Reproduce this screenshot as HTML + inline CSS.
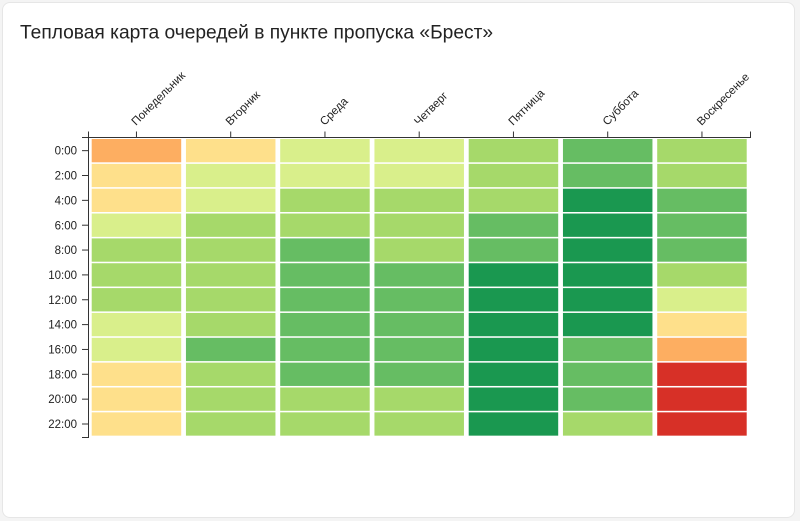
<!DOCTYPE html>
<html>
<head>
<meta charset="utf-8">
<style>
html,body{margin:0;padding:0;width:800px;height:521px;overflow:hidden;background:#f4f4f4;}
.card{position:absolute;left:2px;top:2px;width:791px;height:514px;background:#fff;border:1px solid #e6e6e6;border-radius:8px;}
svg{position:absolute;left:0;top:0;}
text{font-family:"Liberation Sans",Arial,sans-serif;}
</style>
</head>
<body>
<div class="card"></div>
<svg width="800" height="521" viewBox="0 0 800 521" xmlns="http://www.w3.org/2000/svg">
<text x="20" y="38.5" font-size="19.2" fill="#222">Тепловая карта очередей в пункте пропуска «Брест»</text>

<g>
<!-- Mon -->
<g transform="translate(91.7,0)">
<rect y="139" width="89.5" height="23.3" fill="#fdae61"/>
<rect y="163.85" width="89.5" height="23.3" fill="#fee08b"/>
<rect y="188.7" width="89.5" height="23.3" fill="#fee08b"/>
<rect y="213.55" width="89.5" height="23.3" fill="#d9ef8b"/>
<rect y="238.4" width="89.5" height="23.3" fill="#a6d96a"/>
<rect y="263.25" width="89.5" height="23.3" fill="#a6d96a"/>
<rect y="288.1" width="89.5" height="23.3" fill="#a6d96a"/>
<rect y="312.95" width="89.5" height="23.3" fill="#d9ef8b"/>
<rect y="337.8" width="89.5" height="23.3" fill="#d9ef8b"/>
<rect y="362.65" width="89.5" height="23.3" fill="#fee08b"/>
<rect y="387.5" width="89.5" height="23.3" fill="#fee08b"/>
<rect y="412.35" width="89.5" height="23.3" fill="#fee08b"/>
</g>
<!-- Tue -->
<g transform="translate(185.95,0)">
<rect y="139" width="89.5" height="23.3" fill="#fee08b"/>
<rect y="163.85" width="89.5" height="23.3" fill="#d9ef8b"/>
<rect y="188.7" width="89.5" height="23.3" fill="#d9ef8b"/>
<rect y="213.55" width="89.5" height="23.3" fill="#a6d96a"/>
<rect y="238.4" width="89.5" height="23.3" fill="#a6d96a"/>
<rect y="263.25" width="89.5" height="23.3" fill="#a6d96a"/>
<rect y="288.1" width="89.5" height="23.3" fill="#a6d96a"/>
<rect y="312.95" width="89.5" height="23.3" fill="#a6d96a"/>
<rect y="337.8" width="89.5" height="23.3" fill="#66bd63"/>
<rect y="362.65" width="89.5" height="23.3" fill="#a6d96a"/>
<rect y="387.5" width="89.5" height="23.3" fill="#a6d96a"/>
<rect y="412.35" width="89.5" height="23.3" fill="#a6d96a"/>
</g>
<!-- Wed -->
<g transform="translate(280.2,0)">
<rect y="139" width="89.5" height="23.3" fill="#d9ef8b"/>
<rect y="163.85" width="89.5" height="23.3" fill="#d9ef8b"/>
<rect y="188.7" width="89.5" height="23.3" fill="#a6d96a"/>
<rect y="213.55" width="89.5" height="23.3" fill="#a6d96a"/>
<rect y="238.4" width="89.5" height="23.3" fill="#66bd63"/>
<rect y="263.25" width="89.5" height="23.3" fill="#66bd63"/>
<rect y="288.1" width="89.5" height="23.3" fill="#66bd63"/>
<rect y="312.95" width="89.5" height="23.3" fill="#66bd63"/>
<rect y="337.8" width="89.5" height="23.3" fill="#66bd63"/>
<rect y="362.65" width="89.5" height="23.3" fill="#66bd63"/>
<rect y="387.5" width="89.5" height="23.3" fill="#a6d96a"/>
<rect y="412.35" width="89.5" height="23.3" fill="#a6d96a"/>
</g>
<!-- Thu -->
<g transform="translate(374.45,0)">
<rect y="139" width="89.5" height="23.3" fill="#d9ef8b"/>
<rect y="163.85" width="89.5" height="23.3" fill="#d9ef8b"/>
<rect y="188.7" width="89.5" height="23.3" fill="#a6d96a"/>
<rect y="213.55" width="89.5" height="23.3" fill="#a6d96a"/>
<rect y="238.4" width="89.5" height="23.3" fill="#a6d96a"/>
<rect y="263.25" width="89.5" height="23.3" fill="#66bd63"/>
<rect y="288.1" width="89.5" height="23.3" fill="#66bd63"/>
<rect y="312.95" width="89.5" height="23.3" fill="#66bd63"/>
<rect y="337.8" width="89.5" height="23.3" fill="#66bd63"/>
<rect y="362.65" width="89.5" height="23.3" fill="#66bd63"/>
<rect y="387.5" width="89.5" height="23.3" fill="#a6d96a"/>
<rect y="412.35" width="89.5" height="23.3" fill="#a6d96a"/>
</g>
<!-- Fri -->
<g transform="translate(468.7,0)">
<rect y="139" width="89.5" height="23.3" fill="#a6d96a"/>
<rect y="163.85" width="89.5" height="23.3" fill="#a6d96a"/>
<rect y="188.7" width="89.5" height="23.3" fill="#a6d96a"/>
<rect y="213.55" width="89.5" height="23.3" fill="#66bd63"/>
<rect y="238.4" width="89.5" height="23.3" fill="#66bd63"/>
<rect y="263.25" width="89.5" height="23.3" fill="#1a9850"/>
<rect y="288.1" width="89.5" height="23.3" fill="#1a9850"/>
<rect y="312.95" width="89.5" height="23.3" fill="#1a9850"/>
<rect y="337.8" width="89.5" height="23.3" fill="#1a9850"/>
<rect y="362.65" width="89.5" height="23.3" fill="#1a9850"/>
<rect y="387.5" width="89.5" height="23.3" fill="#1a9850"/>
<rect y="412.35" width="89.5" height="23.3" fill="#1a9850"/>
</g>
<!-- Sat -->
<g transform="translate(562.95,0)">
<rect y="139" width="89.5" height="23.3" fill="#66bd63"/>
<rect y="163.85" width="89.5" height="23.3" fill="#66bd63"/>
<rect y="188.7" width="89.5" height="23.3" fill="#1a9850"/>
<rect y="213.55" width="89.5" height="23.3" fill="#1a9850"/>
<rect y="238.4" width="89.5" height="23.3" fill="#1a9850"/>
<rect y="263.25" width="89.5" height="23.3" fill="#1a9850"/>
<rect y="288.1" width="89.5" height="23.3" fill="#1a9850"/>
<rect y="312.95" width="89.5" height="23.3" fill="#1a9850"/>
<rect y="337.8" width="89.5" height="23.3" fill="#66bd63"/>
<rect y="362.65" width="89.5" height="23.3" fill="#66bd63"/>
<rect y="387.5" width="89.5" height="23.3" fill="#66bd63"/>
<rect y="412.35" width="89.5" height="23.3" fill="#a6d96a"/>
</g>
<!-- Sun -->
<g transform="translate(657.2,0)">
<rect y="139" width="89.5" height="23.3" fill="#a6d96a"/>
<rect y="163.85" width="89.5" height="23.3" fill="#a6d96a"/>
<rect y="188.7" width="89.5" height="23.3" fill="#66bd63"/>
<rect y="213.55" width="89.5" height="23.3" fill="#66bd63"/>
<rect y="238.4" width="89.5" height="23.3" fill="#66bd63"/>
<rect y="263.25" width="89.5" height="23.3" fill="#a6d96a"/>
<rect y="288.1" width="89.5" height="23.3" fill="#d9ef8b"/>
<rect y="312.95" width="89.5" height="23.3" fill="#fee08b"/>
<rect y="337.8" width="89.5" height="23.3" fill="#fdae61"/>
<rect y="362.65" width="89.5" height="23.3" fill="#d73027"/>
<rect y="387.5" width="89.5" height="23.3" fill="#d73027"/>
<rect y="412.35" width="89.5" height="23.3" fill="#d73027"/>
</g>
</g>

<!-- X axis (top) -->
<g stroke="#333" stroke-width="1" fill="none">
<path d="M88.5,131.5 V137.5 H750.5 V131.5"/>
<line x1="136.45" y1="137.5" x2="136.45" y2="131.5"/>
<line x1="230.7" y1="137.5" x2="230.7" y2="131.5"/>
<line x1="324.95" y1="137.5" x2="324.95" y2="131.5"/>
<line x1="419.2" y1="137.5" x2="419.2" y2="131.5"/>
<line x1="513.45" y1="137.5" x2="513.45" y2="131.5"/>
<line x1="607.7" y1="137.5" x2="607.7" y2="131.5"/>
<line x1="701.95" y1="137.5" x2="701.95" y2="131.5"/>
</g>
<g font-size="11.5" fill="#222">
<text transform="translate(136,126) rotate(-45)">Понедельник</text>
<text transform="translate(230.2,126) rotate(-45)">Вторник</text>
<text transform="translate(324.5,126) rotate(-45)">Среда</text>
<text transform="translate(418.7,126) rotate(-45)">Четверг</text>
<text transform="translate(513,126) rotate(-45)">Пятница</text>
<text transform="translate(607.2,126) rotate(-45)">Суббота</text>
<text transform="translate(701.5,126) rotate(-45)">Воскресенье</text>
</g>

<!-- Y axis (left) -->
<g stroke="#333" stroke-width="1" fill="none">
<path d="M82,137.5 H88.5 V437.5 H82"/>
<line x1="82" y1="150.65" x2="88" y2="150.65"/>
<line x1="82" y1="175.5" x2="88" y2="175.5"/>
<line x1="82" y1="200.35" x2="88" y2="200.35"/>
<line x1="82" y1="225.2" x2="88" y2="225.2"/>
<line x1="82" y1="250.05" x2="88" y2="250.05"/>
<line x1="82" y1="274.9" x2="88" y2="274.9"/>
<line x1="82" y1="299.75" x2="88" y2="299.75"/>
<line x1="82" y1="324.6" x2="88" y2="324.6"/>
<line x1="82" y1="349.45" x2="88" y2="349.45"/>
<line x1="82" y1="374.3" x2="88" y2="374.3"/>
<line x1="82" y1="399.15" x2="88" y2="399.15"/>
<line x1="82" y1="424" x2="88" y2="424"/>
</g>
<g font-size="11.5" fill="#222" text-anchor="end">
<text x="77" y="154.7">0:00</text>
<text x="77" y="179.6">2:00</text>
<text x="77" y="204.4">4:00</text>
<text x="77" y="229.3">6:00</text>
<text x="77" y="254.1">8:00</text>
<text x="77" y="279">10:00</text>
<text x="77" y="303.8">12:00</text>
<text x="77" y="328.7">14:00</text>
<text x="77" y="353.5">16:00</text>
<text x="77" y="378.4">18:00</text>
<text x="77" y="403.2">20:00</text>
<text x="77" y="428.1">22:00</text>
</g>
</svg>
</body>
</html>
